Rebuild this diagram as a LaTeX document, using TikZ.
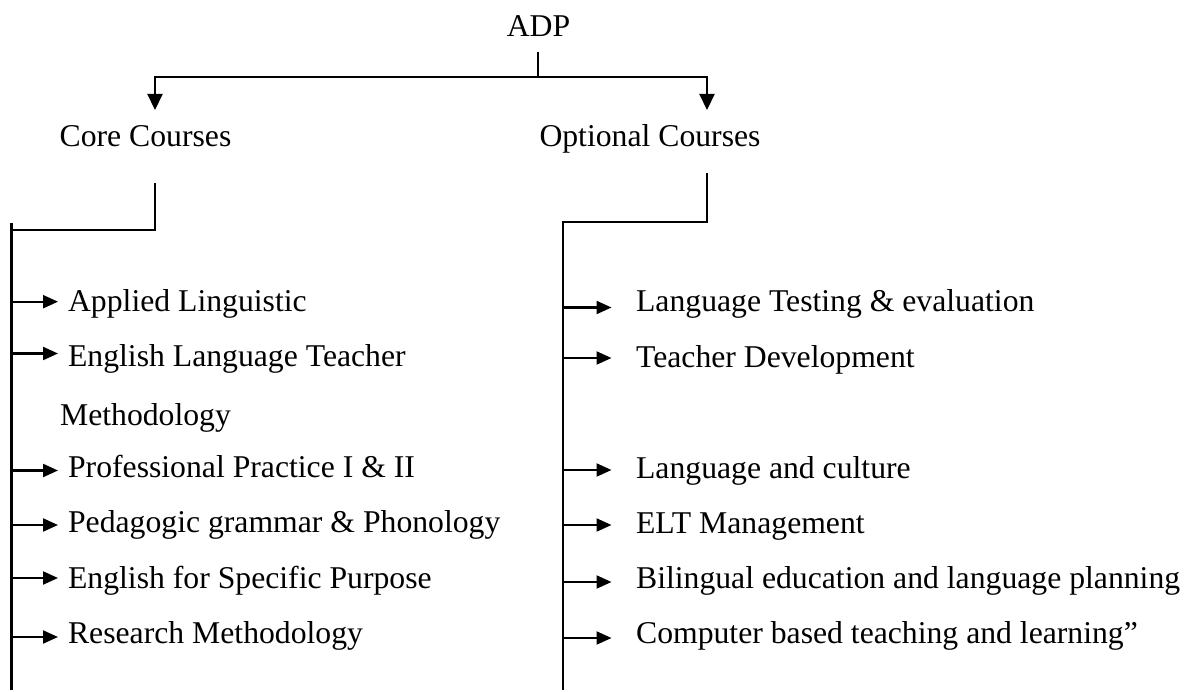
\documentclass[tikz,border=0pt]{standalone}
\usepackage{fontspec}
\setmainfont{Liberation Serif}
\usetikzlibrary{arrows.meta}
\begin{document}
\begin{tikzpicture}[x=1pt,y=-1pt,line width=2.2pt,
  line/.style={draw=black,line width=2.2pt},
  darr/.style={line,-{Triangle[length=16pt,width=15pt]}},
  sarr/.style={line,-{Triangle[length=15pt,width=13pt]}},
  toptxt/.style={inner sep=0pt,anchor=base,font=\fontsize{31.7}{38}\selectfont},
  item/.style={inner sep=0pt,anchor=base west,font=\fontsize{31.7}{38}\selectfont}]
\useasboundingbox (0,0) rectangle (1186,692);
% top
\node[toptxt] (adp) at (538.5,37) {ADP};
\node[toptxt] (core) at (145.5,147) {Core Courses};
\node[toptxt] (opt) at (650,147) {Optional Courses};
\coordinate (adpb) at (538,52);
\coordinate (j) at (538,77);
\coordinate (coretip) at (155,110);
\coordinate (opttip) at (707,110);
\draw[line] (adpb) -- (j);
\draw[darr] (j) -| (coretip);
\draw[darr] (j) -| (opttip);
% core branch
\coordinate (cb) at (155,182.7);
\coordinate (cj) at (11.5,230);
\coordinate (ltop) at (11.5,222.7);
\coordinate (lbot) at (11.5,690);
\draw[line] (cb) |- (cj);
\draw[line] (ltop) -- (lbot);
% optional branch
\coordinate (ob) at (707,173.3);
\coordinate (oj) at (563,221.7);
\coordinate (rbot) at (563,690);
\draw[line] (ob) |- (oj) -- (rbot);
% left items
\foreach \n/\ay/\by/\t in {1/301.7/312/Applied Linguistic,
  2/353.5/367/English Language Teacher,
  3/470.5/477/Professional Practice I \& II,
  4/525/532/Pedagogic grammar \& Phonology,
  5/578/588/English for Specific Purpose,
  6/637/643/Research Methodology}{
  \coordinate (ls\n) at (11.5,\ay);
  \coordinate (le\n) at (58,\ay);
  \node[item] (li\n) at (67,\by) {\t};
  \draw[sarr] (ls\n) -- (le\n);
}
\node[item] (li2b) at (59,425) {Methodology};
% right items
\foreach \n/\ay/\by/\t in {1/307.5/312/Language Testing \& evaluation,
  2/358/368/Teacher Development,
  3/470/478/Language and culture,
  4/525/533/ELT Management,
  5/582/588/Bilingual education and language planning,
  6/638/643/Computer based teaching and learning”}{
  \coordinate (rs\n) at (563,\ay);
  \coordinate (re\n) at (611.5,\ay);
  \node[item] (ri\n) at (635,\by) {\t};
  \draw[sarr] (rs\n) -- (re\n);
}
\end{tikzpicture}
\end{document}
